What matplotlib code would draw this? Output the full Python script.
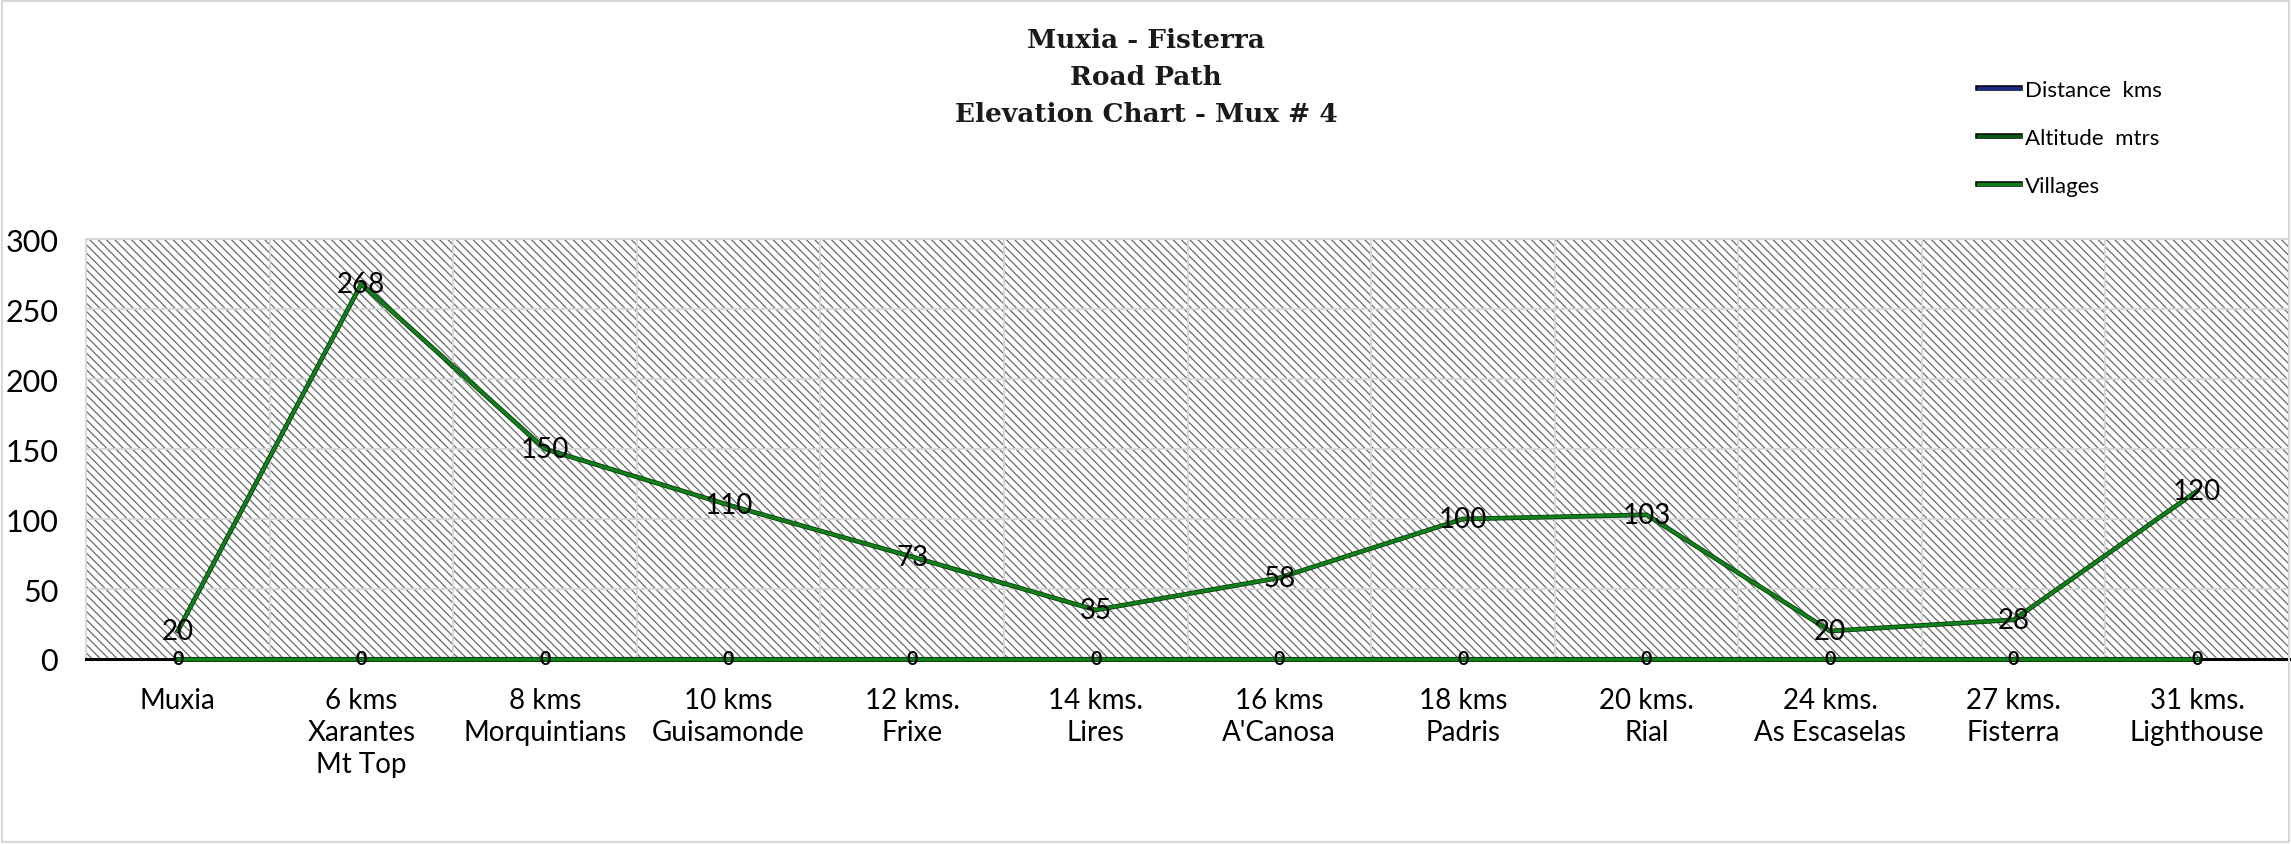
import matplotlib
matplotlib.use("Agg")
import matplotlib.pyplot as plt
from matplotlib.patches import Rectangle
from matplotlib.lines import Line2D
import matplotlib.patheffects as pe
import numpy as np

# ---- data ----
categories = ["Muxia", "6 kms\nXarantes\nMt Top", "8 kms\nMorquintians", "10 kms\nGuisamonde",
              "12 kms.\nFrixe", "14 kms.\nLires", "16 kms\nA'Canosa", "18 kms\nPadris",
              "20 kms.\nRial", "24 kms.\nAs Escaselas", "27 kms.\nFisterra", "31 kms.\nLighthouse"]
altitude = [20, 268, 150, 110, 73, 35, 58, 100, 103, 20, 28, 120]
distance = [0, 0, 0, 0, 0, 0, 0, 0, 0, 0, 0, 0]
villages = [0, 0, 0, 0, 0, 0, 0, 0, 0, 0, 0, 0]
yticks = [0, 50, 100, 150, 200, 250, 300]
title_lines = ["Muxia - Fisterra", "Road Path", "Elevation Chart - Mux # 4"]

plt.rcParams['font.family'] = ['Lato', 'DejaVu Sans']
plt.rcParams['hatch.linewidth'] = 0.9

W, H = 2291, 845
fig = plt.figure(figsize=(W / 100, H / 100), dpi=100)
ax = fig.add_axes([86 / W, 1 - 660 / H, (2289 - 86) / W, (660 - 240) / H])

x = np.arange(len(categories))
BS = chr(92)

# hatched plot area
ax.set_facecolor('white')
bg = Rectangle((0, 0), 1, 1, transform=ax.transAxes, facecolor='white',
               edgecolor='#6a6a6a', hatch=BS * 4, linewidth=0, zorder=0.1)
ax.add_patch(bg)

ax.set_xlim(-0.5, len(categories) - 0.5)
ax.set_ylim(0, 300)
ax.set_yticks(yticks)
ax.set_xticks(x)
ax.set_xticklabels(categories, fontsize=20, linespacing=1.3)
ax.set_xticks(np.arange(-0.5, len(categories), 0.5), minor=True)
ax.tick_params(axis='x', which='both', length=0, pad=20)
ax.tick_params(axis='y', length=0, pad=20, labelsize=22)
ax.set_axisbelow(True)
ax.grid(True, axis='y', color='#d6d6d6', linewidth=1.3, zorder=0.5)
ax.grid(True, axis='x', which='minor', color='#d6d6d6', linewidth=1.3, zorder=0.5)
for s in ['top', 'left', 'right']:
    ax.spines[s].set_color('#d6d6d6')
    ax.spines[s].set_linewidth(1.2)
ax.spines['bottom'].set_color('black')
ax.spines['bottom'].set_linewidth(2.2)

navy = '#1c2a86'
green = '#10801a'
dgreen = '#0b5c12'

ax.plot(x, distance, color=navy, lw=3, zorder=3, clip_on=False)
ax.plot(x, villages, color=green, lw=2.4, zorder=3.1, clip_on=False,
        path_effects=[pe.Stroke(linewidth=3.6, foreground='#0a3a0a'), pe.Normal()])
ax.plot(x, altitude, color=green, lw=2.2, zorder=4,
        path_effects=[pe.Stroke(linewidth=3.4, foreground='#0a3a0a'), pe.Normal()])

for xi, v in zip(x, altitude):
    ax.text(xi, v, str(v), ha='center', va='center', fontsize=20, color='black', zorder=5)
for xi, v in zip(x, villages):
    ax.text(xi, v, str(v), ha='center', va='center', fontsize=14, color='black',
            fontweight='bold', zorder=5, clip_on=False)

# title
for line, yb in zip(title_lines, [48, 85, 122]):
    fig.text(1146 / W, 1 - yb / H, line, ha='center', va='baseline', fontsize=19,
             fontweight='bold', family=['DejaVu Serif'], color='#1a1a1a')

# legend
handles = [
    Line2D([0], [0], color=navy, lw=2.5, path_effects=[pe.Stroke(linewidth=4, foreground='black'), pe.Normal()]),
    Line2D([0], [0], color=dgreen, lw=2.5, path_effects=[pe.Stroke(linewidth=4, foreground='black'), pe.Normal()]),
    Line2D([0], [0], color=green, lw=2.5, path_effects=[pe.Stroke(linewidth=4, foreground='black'), pe.Normal()]),
]
fig.legend(handles, ["Distance  kms", "Altitude  mtrs", "Villages"], loc='upper left',
           bbox_to_anchor=(1978 / W, 1 - 81 / H), frameon=False, fontsize=16,
           handlelength=1.9, handletextpad=0.2, labelspacing=1.25, borderpad=0, borderaxespad=0)

# chart border
fig.patches.append(Rectangle((2 / W, 2 / H), (W - 4) / W, (H - 4) / H, transform=fig.transFigure,
                             fill=False, edgecolor='#d9d9d9', linewidth=1.5))

fig.savefig('out.png', dpi=100)
